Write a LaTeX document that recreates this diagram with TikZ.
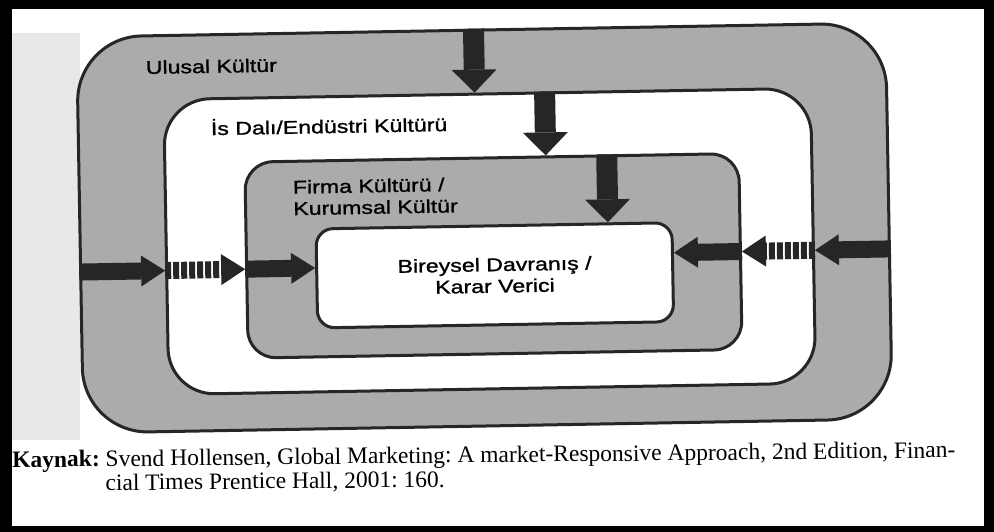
\documentclass[tikz,border=0pt]{standalone}
\usepackage{fontspec}
\usetikzlibrary{arrows.meta,positioning}
\newfontfamily\diagfont[FakeStretch=1.25, FakeBold=1.2]{Liberation Sans}
\newfontfamily\srcfont{Liberation Serif}

\begin{document}
\begin{tikzpicture}[
    x=1pt, y=-1pt,
    graybox/.style={draw=black!85, line width=3pt, fill=black!33},
    whitebox/.style={draw=black!85, line width=3pt, fill=white},
    lbl/.style={font=\diagfont\fontsize{18.5}{21.5}\selectfont, inner sep=0pt},
    src/.style={font=\srcfont\fontsize{23.5}{24}\selectfont\frenchspacing, inner sep=0pt},
    downarrow/.style={draw=black!85, line width=21pt, -{Triangle[length=23pt, width=45pt, line width=0pt]}},
    sidearrow/.style={draw=black!85, line width=17pt, -{Triangle[length=24pt, width=31pt, line width=0pt]}},
    striped/.style={dash pattern=on 6pt off 2pt}
]
\useasboundingbox (0,0) rectangle (994,532);

% Page frame
\fill[black] (0,0) rectangle (994,532);
\fill[white] (12,9) rectangle (984,526);
\fill[black!9] (12,33) rectangle (80,440);

\begin{scope}[rotate around={1:(484,230)}, transform shape]
% Nested cultures
\node[graybox, rounded corners=65pt, minimum width=809pt, minimum height=396pt] (ulusal) at (484.5,228) {};
\node[whitebox, rounded corners=46pt, minimum width=647pt, minimum height=295pt] (endustri) at (489.5,241.5) {};
\node[graybox, rounded corners=28pt, minimum width=494pt, minimum height=196pt] (firma) at (493,256) {};
\node[whitebox, rounded corners=17pt, minimum width=356pt, minimum height=99pt, lbl, align=center] (birey) at (494,275.5) {Bireysel Davranış /\\Karar Verici};

% Labels
\node[lbl, anchor=west] (ulusalTxt) at ([shift={(70,33)}]ulusal.north west) {Ulusal Kültür};
\node[lbl, anchor=west] (endustriTxt) at ([shift={(48,30)}]endustri.north west) {İs Dalı/Endüstri Kültürü};
\node[lbl, anchor=west, align=left] (firmaTxt) at ([shift={(49,38)}]firma.north west) {Firma Kültürü /\\Kurumsal Kültür};

% Arrows from above
\draw[downarrow] ([xshift=-7.5pt]ulusal.north) -- ([xshift=-12.5pt]endustri.north);
\draw[downarrow] ([xshift=57.5pt]endustri.north) -- ([xshift=54pt]firma.north);
\draw[downarrow] ([xshift=115pt]firma.north) -- ([xshift=114pt]birey.north);

% Arrows from the left
\draw[sidearrow] ([yshift=-37pt]ulusal.west) -- ([yshift=-23.5pt]endustri.west);
\draw[sidearrow, striped] ([yshift=-23.5pt]endustri.west) -- ([yshift=-9pt]firma.west);
\draw[sidearrow] ([yshift=-9pt]firma.west) -- ([yshift=10.5pt]birey.west);

% Arrows from the right
\draw[sidearrow] ([yshift=-28pt]ulusal.east) -- ([yshift=-14.5pt]endustri.east);
\draw[sidearrow, striped] ([yshift=-14.5pt]endustri.east) -- (firma.east);
\draw[sidearrow] (firma.east) -- ([yshift=19.5pt]birey.east);
\end{scope}

% Source
\node[src, anchor=north west, align=left, rotate=0.6] (kaynak) at (12,451) {\textbf{Kaynak:} Svend Hollensen, Global Marketing: A market-Responsive Approach, 2nd Edition, Finan-\\\hspace*{93pt}cial Times Prentice Hall, 2001: 160.};

\end{tikzpicture}
\end{document}
